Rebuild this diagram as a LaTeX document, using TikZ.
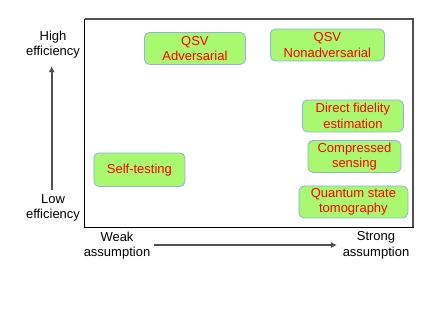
\documentclass[tikz,border=0pt]{standalone}
\usepackage{fontspec}
\setmainfont{Liberation Sans}
\usetikzlibrary{arrows.meta}
\definecolor{boxfill}{HTML}{A8F870}
\definecolor{boxline}{HTML}{8DB3E2}
\definecolor{axisgray}{HTML}{505050}
\tikzset{
  method/.style={draw=boxline, fill=boxfill, rounded corners=5pt, line width=0.8pt,
    text=red, align=center, font=\fontsize{13pt}{15.5pt}\selectfont, inner sep=0pt, anchor=north west},
  axislabel/.style={align=center, font=\fontsize{13pt}{15.5pt}\selectfont, text=black},
  axisarrow/.style={draw=axisgray, line width=1.8pt, -{Latex[length=6pt,width=6pt]}}
}
\begin{document}
\begin{tikzpicture}[x=1pt,y=-1pt]
\useasboundingbox (0,0) rectangle (436,308);
% frame
\draw[black, line width=1pt] (84.5,19) rectangle (413,227);
\draw[axisgray, line width=1.8pt] (84.5,19) -- (413,19) -- (413,227);
% boxes
\node[method, minimum width=101pt, minimum height=32pt] (adv) at (144,32) {QSV\\Adversarial};
\node[method, minimum width=114pt, minimum height=32pt] (nonadv) at (270,28.5) {QSV\\Nonadversarial};
\node[method, minimum width=101pt, minimum height=32pt] (dfe) at (302,99.5) {Direct fidelity\\estimation};
\node[method, minimum width=93pt, minimum height=32pt] (cs) at (307.5,140) {Compressed\\sensing};
\node[method, minimum width=109pt, minimum height=32pt] (qst) at (298.5,185.5) {Quantum state\\tomography};
\node[method, minimum width=91pt, minimum height=33.5pt] (st) at (93.5,152.5) {Self-testing};
% axis labels
\node[axislabel] (high) at (53,44.5) {High\\efficiency};
\node[axislabel] (low) at (53,208) {Low\\efficiency};
\node[axislabel] (weak) at (117,245.5) {Weak\\assumption};
\node[axislabel] (strong) at (376,245.5) {Strong\\assumption};
% arrows
\coordinate (vs) at (51.7,190);
\coordinate (ve) at (51.7,66);
\coordinate (hs) at (154,245);
\coordinate (he) at (337,245);
\draw[axisarrow] (vs) -- (ve);
\draw[axisarrow] (hs) -- (he);
\end{tikzpicture}
\end{document}
